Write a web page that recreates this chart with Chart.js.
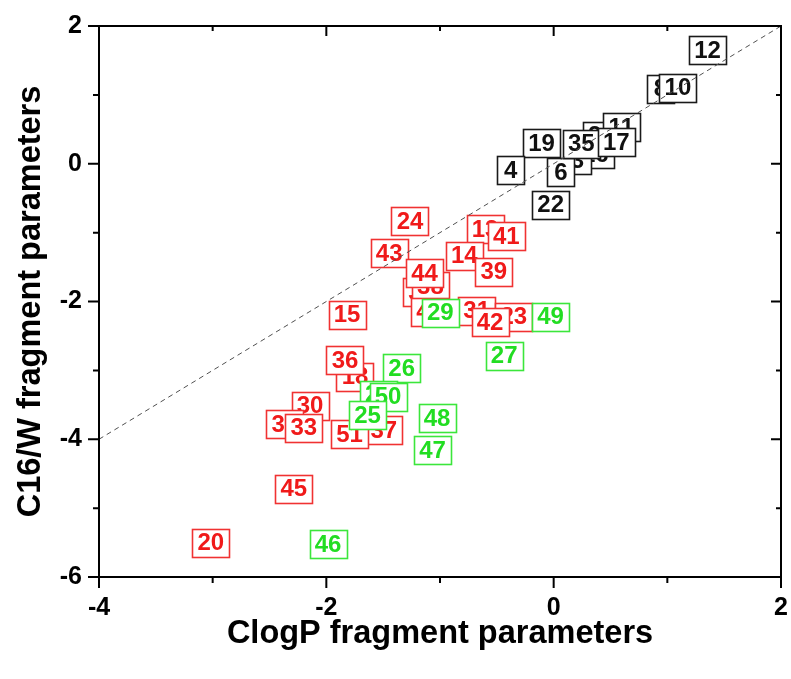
<!DOCTYPE html>
<html>
<head>
<meta charset="utf-8">
<script src="https://cdn.jsdelivr.net/npm/chart.js@4.4.1/dist/chart.umd.min.js"></script>
<style>
  html, body { margin: 0; padding: 0; background: #ffffff; }
  #wrap { width: 791px; height: 679px; }
</style>
</head>
<body>
<div id="wrap"><canvas id="c" width="791" height="679"></canvas></div>
<script>
// ---- data ----
const blackLabels = ['21', '11', '16', '3', '6', '35', '17', '19', '4', '22', '8', '10', '12'];
const blackX = [0.419, 0.595, 0.366, 0.208, 0.064, 0.243, 0.551, -0.106, -0.378, -0.026, 0.939, 1.093, 1.354];
const blackY = [0.406, 0.527, 0.139, 0.055, -0.123, 0.290, 0.309, 0.298, -0.090, -0.594, 1.090, 1.105, 1.652];

const redLabels = ['13', '41', '24', '43', '14', '39', '32', '38', '44', '40', '15', '31', '23', '42', '18', '36', '30', '34', '33', '37', '51', '45', '20'];
const redX = [-0.604, -0.417, -1.264, -1.447, -0.786, -0.527, -1.161, -1.084, -1.136, -1.092, -1.818, -0.677, -0.351, -0.560, -1.748, -1.836, -2.143, -2.366, -2.198, -1.494, -1.796, -2.286, -3.016];
const redY = [-0.949, -1.055, -0.837, -1.298, -1.335, -1.566, -1.868, -1.778, -1.588, -2.147, -2.194, -2.134, -2.221, -2.303, -3.094, -2.851, -3.512, -3.779, -3.834, -3.867, -3.925, -4.716, -5.501];

const greenLabels = ['29', '49', '27', '26', '28', '50', '25', '48', '47', '46'];
const greenX = [-0.997, -0.028, -0.435, -1.337, -1.543, -1.457, -1.638, -1.026, -1.066, -1.985];
const greenY = [-2.163, -2.221, -2.787, -2.967, -3.353, -3.382, -3.653, -3.694, -4.161, -5.528];

const diagX = [-4, 2];
const diagY = [-4, 2];

const xTickValues = [-4, -3, -2, -1, 0, 1, 2];
const yTickValues = [-6, -5, -4, -3, -2, -1, 0, 1, 2];
const xTickLabels = ['-4', '', '-2', '', '0', '', '2'];
const yTickLabels = ['-6', '', '-4', '', '-2', '', '0', '', '2'];

const xTitle = 'ClogP fragment parameters';
const yTitle = 'C16/W fragment parameters';

// ---- helpers ----
function pts(xs, ys) { return xs.map((x, i) => ({ x: x, y: ys[i] })); }

const FONT = '"Liberation Sans", Arial, Helvetica, sans-serif';
const NARROW = '"Liberation Sans Narrow", "Arial Narrow", "Liberation Sans", Arial, sans-serif';

const boxStyles = {
  black: { text: '#111111', border: '#1a1a1a' },
  red:   { text: '#f01a1a', border: '#f03232' },
  green: { text: '#22dd22', border: '#3be63b' }
};

const labelBoxes = {
  id: 'labelBoxes',
  beforeDatasetsDraw(chart) {
    const ctx = chart.ctx;
    ctx.save();
    ctx.font = 'bold 24px ' + NARROW;
    ctx.textAlign = 'center';
    ctx.textBaseline = 'middle';
    chart.data.datasets.forEach((ds, di) => {
      if (!ds.boxLabels) return;
      const st = boxStyles[ds.boxStyle];
      const meta = chart.getDatasetMeta(di);
      meta.data.forEach((el, i) => {
        const txt = ds.boxLabels[i];
        const w = txt.length > 1 ? 37 : 27, h = 28;
        const x0 = Math.round(el.x - w / 2) + 0.5, y0 = Math.round(el.y - h / 2) + 0.5;
        ctx.fillStyle = '#ffffff';
        ctx.fillRect(x0, y0, w, h);
        ctx.lineWidth = 1.6;
        ctx.strokeStyle = st.border;
        ctx.strokeRect(x0, y0, w, h);
        ctx.fillStyle = st.text;
        ctx.fillText(txt, el.x, el.y + 1);
      });
    });
    ctx.restore();
  }
};

const frameTicks = {
  id: 'frameTicks',
  afterDraw(chart) {
    const ctx = chart.ctx;
    const xs = chart.scales.x, ys = chart.scales.y;
    const a = chart.chartArea;
    ctx.save();
    ctx.strokeStyle = '#000000';
    ctx.lineWidth = 2;
    ctx.strokeRect(a.left, a.top, a.right - a.left, a.bottom - a.top);
    ctx.beginPath();
    xTickValues.forEach((v, i) => {
      const px = xs.getPixelForValue(v);
      const major = xTickLabels[i] !== '';
      ctx.moveTo(px, a.bottom); ctx.lineTo(px, a.bottom + (major ? 11 : 6));
      ctx.moveTo(px, a.top); ctx.lineTo(px, a.top + (major ? 10 : 5));
    });
    yTickValues.forEach((v, i) => {
      const py = ys.getPixelForValue(v);
      const major = yTickLabels[i] !== '';
      ctx.moveTo(a.left, py); ctx.lineTo(a.left - (major ? 11 : 6), py);
      ctx.moveTo(a.right, py); ctx.lineTo(a.right - (major ? 10 : 5), py);
    });
    ctx.stroke();
    ctx.restore();
  }
};

const chart = new Chart(document.getElementById('c'), {
  type: 'scatter',
  data: {
    datasets: [
      { label: 'diag', type: 'line', data: pts(diagX, diagY), borderColor: '#505050', borderWidth: 1,
        borderDash: [5, 4], pointRadius: 0, fill: false, tension: 0 },
      { label: 'red', data: pts(redX, redY), boxLabels: redLabels, boxStyle: 'red', pointRadius: 0 },
      { label: 'green', data: pts(greenX, greenY), boxLabels: greenLabels, boxStyle: 'green', pointRadius: 0 },
      { label: 'black', data: pts(blackX, blackY), boxLabels: blackLabels, boxStyle: 'black', pointRadius: 0 }
    ]
  },
  options: {
    responsive: false,
    animation: false,
    devicePixelRatio: 1,
    layout: { padding: { top: 26, right: 10, left: 0, bottom: 0 } },
    plugins: { legend: { display: false }, tooltip: { enabled: false } },
    scales: {
      x: {
        type: 'linear', min: -4, max: 2,
        afterFit(s) { s.height = 102; s.paddingLeft = 0; s.paddingRight = 0; },
        afterBuildTicks(s) { s.ticks = xTickValues.map(v => ({ value: v })); },
        grid: { display: false, drawTicks: false },
        border: { display: false },
        ticks: {
          autoSkip: false, maxRotation: 0, padding: 16, color: '#000',
          font: { family: FONT, size: 25, weight: 'bold' },
          callback: (v) => xTickLabels[xTickValues.indexOf(v)] ?? ''
        },
        title: { display: true, text: xTitle, color: '#000',
          font: { family: FONT, size: 32.5, weight: 'bold' }, padding: { top: 0, bottom: 25 } }
      },
      y: {
        type: 'linear', min: -6, max: 2,
        afterFit(s) { s.width = 99; s.paddingTop = 0; s.paddingBottom = 0; },
        afterBuildTicks(s) { s.ticks = yTickValues.map(v => ({ value: v })); },
        grid: { display: false, drawTicks: false },
        border: { display: false },
        ticks: {
          autoSkip: false, padding: 17, color: '#000',
          font: { family: FONT, size: 25, weight: 'bold' },
          callback: (v) => yTickLabels[yTickValues.indexOf(v)] ?? ''
        },
        title: { display: true, text: yTitle, color: '#000',
          font: { family: FONT, size: 32.5, weight: 'bold' }, padding: { top: 12, bottom: 0 } }
      }
    }
  },
  plugins: [labelBoxes, frameTicks]
});
</script>
</body>
</html>
